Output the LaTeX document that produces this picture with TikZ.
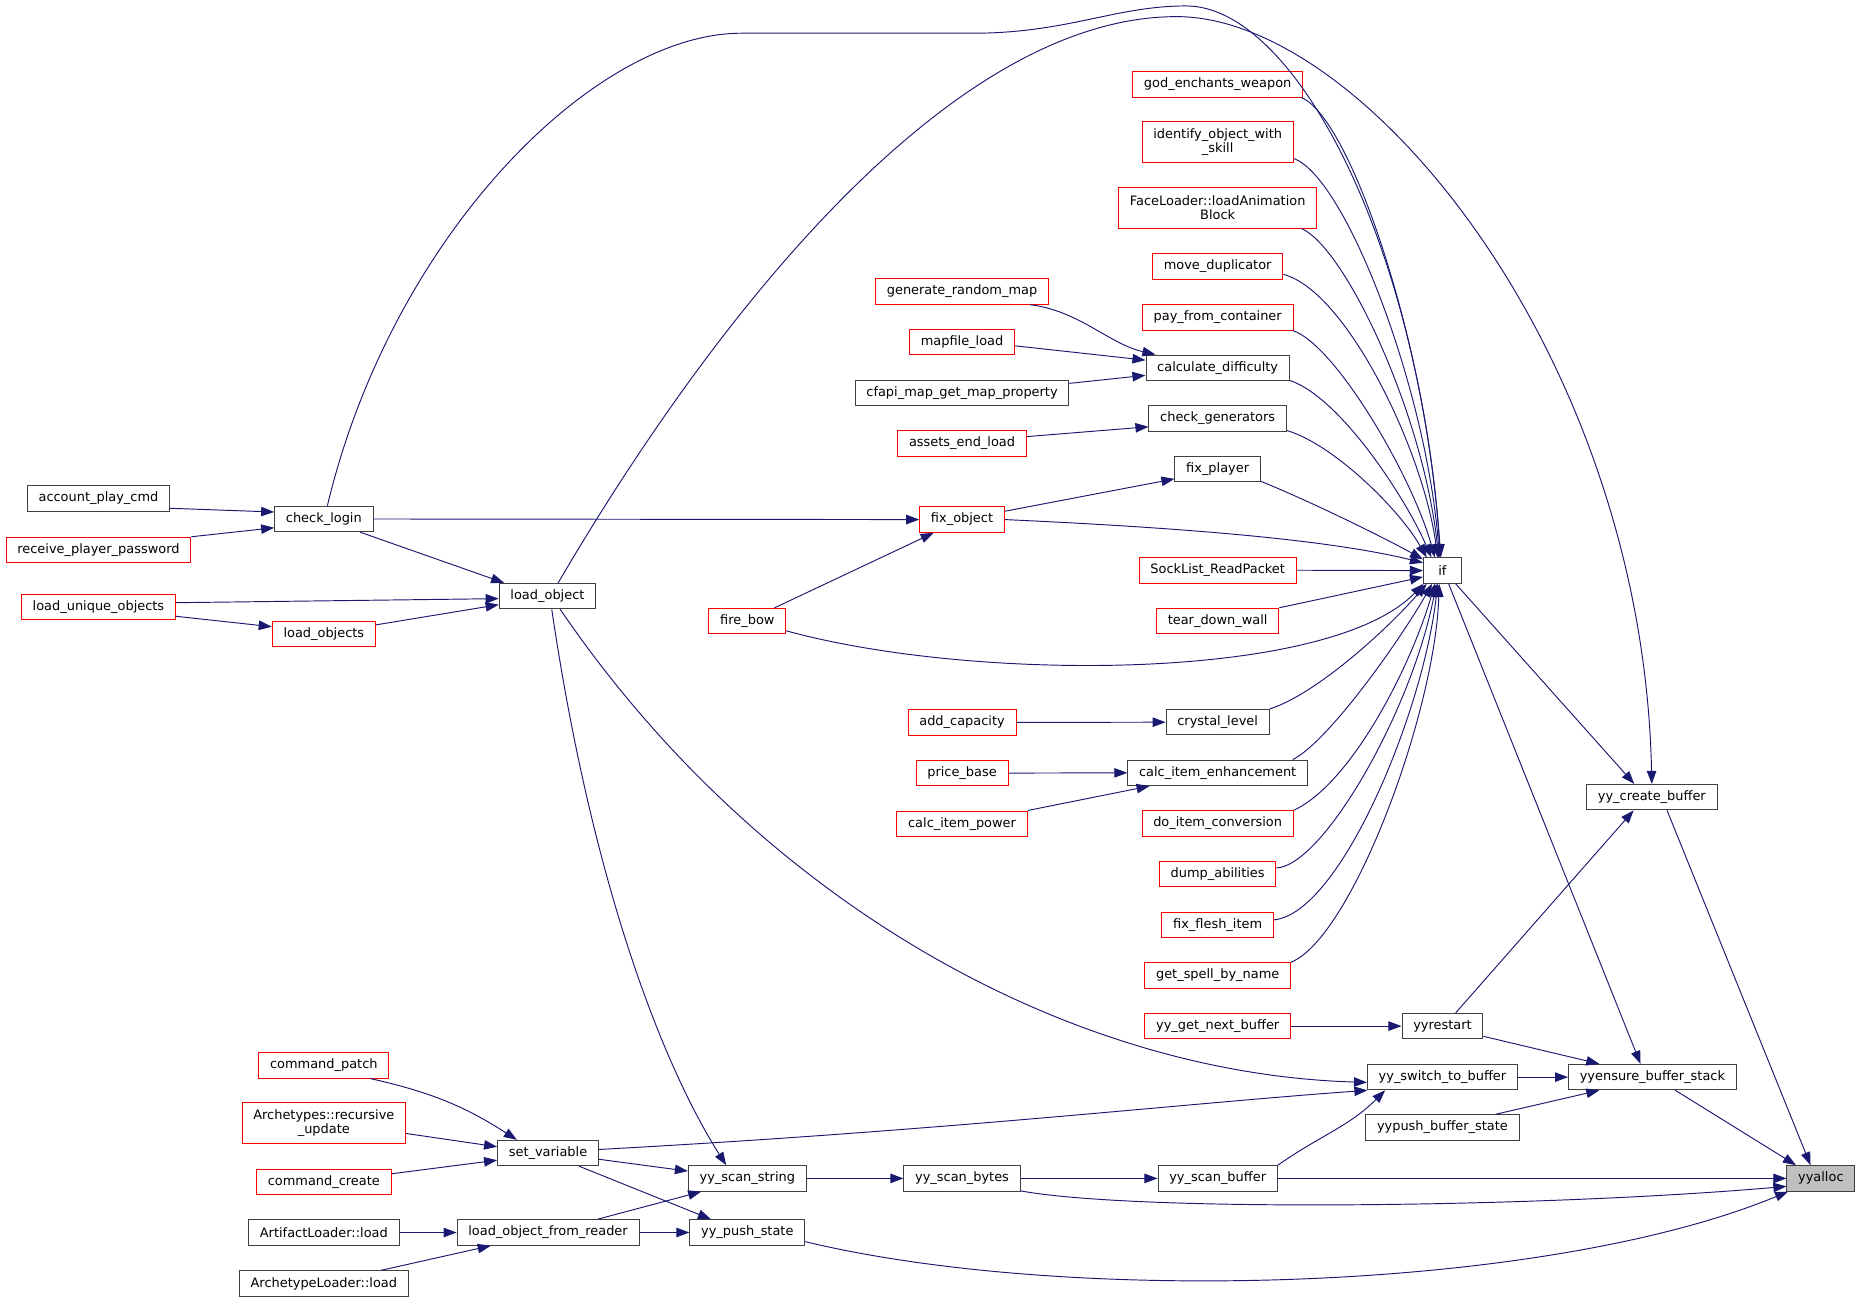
\documentclass[tikz,border=0pt]{standalone}
\usepackage{fontspec}
\setmainfont{DejaVu Sans}
\usetikzlibrary{arrows.meta}
\definecolor{cedge}{HTML}{191970}
\definecolor{cred}{HTML}{FF0000}
\definecolor{cbox}{HTML}{404040}
\definecolor{cself}{HTML}{BFBFBF}
\begin{document}
\begin{tikzpicture}[x=1pt, y=1pt,
    FN/.style={rectangle, draw=cbox, fill=white, line width=0.8pt, minimum height=21.5pt, minimum width=32pt, inner xsep=9.5pt, inner ysep=2pt, font=\fontsize{10.9}{12}\selectfont},
    RFN/.style={FN, draw=cred},
    TWO/.style={minimum height=34.5pt, align=center},
    CALL/.style={draw=cedge, line width=0.8pt, -{Triangle[length=11pt, width=8pt]}}
    ]
    \useasboundingbox (0,0) rectangle (1568,-1098.4);
        \node[FN] (acc) at (83,-420) {account\_play\_cmd};
        \node[RFN] (rcv) at (83,-463.5) {receive\_player\_password};
        \node[RFN] (luo) at (83,-511.5) {load\_unique\_objects};
        \node[FN] (chk) at (273,-437.5) {check\_login};
        \node[RFN] (lobs) at (273,-534.5) {load\_objects};
        \node[FN] (lo) at (461.5,-502.5) {load\_object};
        \node[RFN] (cp) at (273,-898) {command\_patch};
        \node[RFN, TWO] (ru) at (273,-947) {Archetypes::recursive\\\_update};
        \node[RFN] (cc) at (273,-996.5) {command\_create};
        \node[FN] (artl) at (273,-1039) {ArtifactLoader::load};
        \node[FN] (archl) at (273,-1082) {ArchetypeLoader::load};
        \node[FN] (sv) at (462,-972) {set\_variable};
        \node[FN] (lofr) at (462,-1039) {load\_object\_from\_reader};
        \node[RFN] (fb) at (630,-523.6) {fire\_bow};
        \node[FN] (ysstr) at (630,-993.4) {yy\_scan\_string};
        \node[FN] (yps) at (630,-1039) {yy\_push\_state};
        \node[RFN] (gen) at (811,-245.7) {generate\_random\_map};
        \node[RFN] (ml) at (811,-288.4) {mapfile\_load};
        \node[FN] (cfapi) at (811,-331.1) {cfapi\_map\_get\_map\_property};
        \node[RFN] (ael) at (811,-373.8) {assets\_end\_load};
        \node[RFN] (fo) at (811,-438) {fix\_object};
        \node[RFN] (addc) at (811,-609) {add\_capacity};
        \node[RFN] (pb) at (811,-651.7) {price\_base};
        \node[RFN] (cip) at (811,-694.4) {calc\_item\_power};
        \node[FN] (ysby) at (811,-993.4) {yy\_scan\_bytes};
        \node[RFN] (god) at (1026.5,-71) {god\_enchants\_weapon};
        \node[RFN, TWO] (ident) at (1026.5,-120) {identify\_object\_with\\\_skill};
        \node[RFN, TWO] (fl) at (1026.5,-175) {FaceLoader::loadAnimation\\Block};
        \node[RFN] (md) at (1026.5,-224.5) {move\_duplicator};
        \node[RFN] (pay) at (1026.5,-267.5) {pay\_from\_container};
        \node[FN] (cd) at (1026.5,-310) {calculate\_difficulty};
        \node[FN] (cg) at (1026.5,-352.6) {check\_generators};
        \node[FN] (fp) at (1026.5,-395.3) {fix\_player};
        \node[RFN] (sl) at (1026.5,-480.7) {SockList\_ReadPacket};
        \node[RFN] (tdw) at (1026.5,-523.4) {tear\_down\_wall};
        \node[FN] (cl) at (1026.5,-608.8) {crystal\_level};
        \node[FN] (cie) at (1026.5,-651.5) {calc\_item\_enhancement};
        \node[RFN] (dic) at (1026.5,-694.2) {do\_item\_conversion};
        \node[RFN] (da) at (1026.5,-736.9) {dump\_abilities};
        \node[RFN] (ffi) at (1026.5,-779.6) {fix\_flesh\_item};
        \node[RFN] (gsbn) at (1026.5,-822.3) {get\_spell\_by\_name};
        \node[RFN] (ygnb) at (1026.5,-865) {yy\_get\_next\_buffer};
        \node[FN] (yscb) at (1026.5,-993.4) {yy\_scan\_buffer};
        \node[FN] (if) at (1216,-481) {if};
        \node[FN] (yr) at (1216,-865) {yyrestart};
        \node[FN] (ysw) at (1216,-908) {yy\_switch\_to\_buffer};
        \node[FN] (ypbs) at (1216,-950.5) {yypush\_buffer\_state};
        \node[FN] (ycb) at (1392.5,-672) {yy\_create\_buffer};
        \node[FN] (yeb) at (1393,-908) {yyensure\_buffer\_stack};
        \node[FN, fill=cself] (ya) at (1535,-993.4) {yyalloc};

        \draw[CALL] (acc.-8) -- (chk.172);
        \draw[CALL] (rcv.8) -- (chk.190);
        \draw[CALL] (chk.-20) -- (lo.163);
        \draw[CALL] (luo.3) -- (lo.183);
        \draw[CALL] (luo.-7) -- (lobs.172);
        \draw[CALL] (lobs.10) -- (lo.190);
        \draw[CALL] (chk.east) -- (fo.west);
        \draw[CALL] (chk.75) .. controls (330,-200) and (500,-28) .. (625,-28) -- (820,-28) .. controls (900,-28) and (940,-5) .. (1000,-5) .. controls (1090,-5) and (1195,-200) .. (if.97);
        \draw[CALL] (lo.51) .. controls (600,-270) and (800,-14) .. (992,-14) .. controls (1150,-14) and (1385,-300) .. (ycb.north);
        \draw[CALL] (lo.-46) .. controls (640,-760) and (900,-905) .. (ysw.184);
        \draw[CALL] (lo.-72) .. controls (500,-750) and (560,-900) .. (ysstr.148);

        \draw[CALL] (fo.11) -- (fp.193);
        \draw[CALL] (fo.east) .. controls (1000,-445) and (1120,-455) .. (if.158);
        \draw[CALL] (fb.26) -- (fo.205);
        \draw[CALL] (fb.-14) .. controls (820,-575) and (1120,-575) .. (if.215);
        \draw[CALL] (gen.-11) .. controls (910,-262) and (935,-290) .. (cd.168);
        \draw[CALL] (ml.-4) -- (cd.174);
        \draw[CALL] (cfapi.5) -- (cd.186);
        \draw[CALL] (ael.6) -- (cg.187);
        \draw[CALL] (addc.east) -- (cl.west);
        \draw[CALL] (pb.east) -- (cie.west);
        \draw[CALL] (cip.north east) -- (cie.191);

        \draw[CALL] (god.-9) .. controls (1140,-100) and (1205,-300) .. (if.100);
        \draw[CALL] (ident.-12) .. controls (1135,-150) and (1203,-330) .. (if.103);
        \draw[CALL] (fl.-14) .. controls (1135,-210) and (1200,-350) .. (if.106);
        \draw[CALL] (md.-7) .. controls (1135,-245) and (1200,-380) .. (if.110);
        \draw[CALL] (pay.-10) .. controls (1125,-290) and (1190,-400) .. (if.120);
        \draw[CALL] (cd.-10) .. controls (1130,-335) and (1185,-420) .. (if.130);
        \draw[CALL] (cg.-10) .. controls (1125,-375) and (1180,-430) .. (if.140);
        \draw[CALL] (fp.-16) .. controls (1110,-425) and (1170,-455) .. (if.150);
        \draw[CALL] (sl.east) -- (if.west);
        \draw[CALL] (tdw.12) -- (if.198);
        \draw[CALL] (cl.north east) .. controls (1110,-585) and (1170,-530) .. (if.220);
        \draw[CALL] (cie.10) .. controls (1120,-625) and (1180,-540) .. (if.232);
        \draw[CALL] (dic.north east) .. controls (1140,-660) and (1190,-560) .. (if.240);
        \draw[CALL] (da.6) .. controls (1115,-730) and (1190,-600) .. (if.245);
        \draw[CALL] (ffi.5) .. controls (1130,-770) and (1200,-600) .. (if.250);
        \draw[CALL] (gsbn.north east) .. controls (1140,-790) and (1210,-600) .. (if.256);

        \draw[CALL] (if.-45) -- (ycb.143);
        \draw[CALL] (if.-65) -- (yeb.132);
        \draw[CALL] (ygnb.east) -- (yr.west);
        \draw[CALL] (yr.45) -- (ycb.216);
        \draw[CALL] (yr.-14) -- (yeb.166);
        \draw[CALL] (ysw.east) -- (yeb.west);
        \draw[CALL] (ypbs.14) -- (yeb.194);
        \draw[CALL] (ycb.-41) -- (ya.128);
        \draw[CALL] (yeb.-30) -- (ya.152);
        \draw[CALL] (yscb.east) -- (ya.west);
        \draw[CALL] (ysby.-12) .. controls (960,-1022) and (1300,-1018) .. (ya.193);
        \draw[CALL] (yps.-9) .. controls (900,-1100) and (1300,-1090) .. (ya.202);

        \draw[CALL] (cp.-16) to[bend left=10] (sv.157);
        \draw[CALL] (ru.-7) -- (sv.173);
        \draw[CALL] (cc.7) -- (sv.188);
        \draw[CALL] (sv.4) .. controls (800,-953) and (1000,-930) .. (ysw.190);
        \draw[CALL] (sv.-7) -- (ysstr.173);
        \draw[CALL] (sv.-23) -- (yps.160);
        \draw[CALL] (artl.east) -- (lofr.west);
        \draw[CALL] (archl.13) -- (lofr.193);
        \draw[CALL] (lofr.15) -- (ysstr.196);
        \draw[CALL] (lofr.east) -- (yps.west);
        \draw[CALL] (ysstr.east) -- (ysby.west);
        \draw[CALL] (ysby.east) -- (yscb.west);
        \draw[CALL] (yscb.north east) to[out=35, in=225] (ysw.193);
\end{tikzpicture}
\end{document}
